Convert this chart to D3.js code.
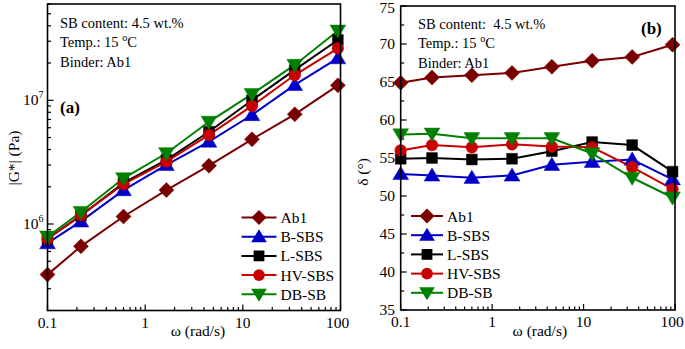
<!DOCTYPE html>
<html><head><meta charset="utf-8">
<script src="https://cdn.jsdelivr.net/npm/d3@7"></script>
<style>
html,body{margin:0;padding:0;background:#fff;}
svg{display:block;font-family:"Liberation Serif","Times New Roman",serif;}
svg text{font-family:"Liberation Serif","Times New Roman",serif;}
</style></head>
<body><svg id="c" width="685" height="349"></svg>
<script>
const freq = [0.1, 0.22, 0.6, 1.65, 4.5, 12.4, 34, 94];
const seriesNames = ["Ab1", "B-SBS", "L-SBS", "HV-SBS", "DB-SB"];
const seriesColors = ["#7a0000", "#0000c8", "#000000", "#c80000", "#008000"];
const seriesSymbols = ["diamond", "triangle", "square", "circle", "triangleDown"];
// |G*| (Pa)
const gAb1 = [3.9e5, 6.6e5, 1.15e6, 1.88e6, 2.96e6, 4.84e6, 7.7e6, 1.32e7];
const gB   = [7.0e5, 1.05e6, 1.88e6, 3.0e6, 4.64e6, 7.6e6, 1.33e7, 2.19e7];
const gL   = [7.6e5, 1.17e6, 2.15e6, 3.3e6, 5.57e6, 1.0e7, 1.76e7, 3.07e7];
const gHV  = [7.6e5, 1.18e6, 2.1e6, 3.2e6, 5.25e6, 9.0e6, 1.6e7, 2.63e7];
const gDB  = [7.9e5, 1.25e6, 2.34e6, 3.73e6, 6.7e6, 1.12e7, 1.93e7, 3.65e7];
// phase angle (deg)
const dAb1 = [64.9, 65.6, 65.9, 66.2, 67.0, 67.8, 68.3, 69.9];
const dB   = [52.9, 52.7, 52.4, 52.7, 54.1, 54.5, 54.8, 52.2];
const dL   = [54.9, 55.0, 54.8, 54.9, 55.9, 57.1, 56.7, 53.2];
const dHV  = [56.0, 56.7, 56.4, 56.8, 56.5, 56.4, 53.8, 50.9];
const dDB  = [58.1, 58.2, 57.6, 57.6, 57.6, 55.6, 52.4, 49.8];
const xTicks = [0.1, 1, 10, 100];
const xTickLabels = ["0.1", "1", "10", "100"];
const gTicks = [1e6, 1e7];
const gTickExp = ["6", "7"];
const dTicks = [35, 40, 45, 50, 55, 60, 65, 70, 75];
const annotLines = ["SB content: 4.5 wt.%", "Temp.: 15 ", "Binder: Ab1"];

const gSeries = [gAb1, gB, gL, gHV, gDB];
const dSeries = [dAb1, dB, dL, dHV, dDB];

const svg = d3.select("#c");
const FS = 15.5;

function symbolPath(type, size) {
  const s = size;
  if (type === "diamond") { const h = s/2; return `M0,${-h}L${h},0L0,${h}L${-h},0Z`; }
  if (type === "square") { const h = s/2*0.72; return `M${-h},${-h}H${h}V${h}H${-h}Z`; }
  if (type === "circle") { const r = s/2*0.78; return d3.symbol(d3.symbolCircle, Math.PI*r*r)(); }
  if (type === "triangle") { const h = s/2; return `M0,${-h}L${h*1.05},${h*0.75}L${-h*1.05},${h*0.75}Z`; }
  if (type === "triangleDown") { const h = s/2; return `M0,${h}L${h*1.05},${-h*0.75}L${-h*1.05},${-h*0.75}Z`; }
}

function logMinor(domain) {
  const out = [];
  for (let e = Math.floor(Math.log10(domain[0])); e <= Math.ceil(Math.log10(domain[1])); e++) {
    for (let m = 1; m < 10; m++) {
      const v = m * Math.pow(10, e);
      if (v >= domain[0]*0.999 && v <= domain[1]*1.001) out.push({v, major: m === 1});
    }
  }
  return out;
}

function panel(opts) {
  const {x0, x1, y0, y1} = opts;
  const x = d3.scaleLog().domain([0.1, 100]).range([x0, x1]);
  const y = opts.y;
  const g = svg.append("g");
  logMinor([0.1, 100]).forEach(t => {
    const px = x(t.v);
    const L = t.major ? 6 : 3.5;
    g.append("line").attr("x1", px).attr("x2", px).attr("y1", y1).attr("y2", y1 - L)
      .attr("stroke", "#000").attr("stroke-width", 1.2);
  });
  xTicks.forEach((t, i) => {
    g.append("text").attr("x", x(t) - (i === 3 ? 3 : 0)).attr("y", y1 + 17).attr("text-anchor", "middle")
      .attr("font-size", FS).text(xTickLabels[i]);
  });
  g.append("text").attr("x", (x0 + x1) / 2 + opts.xLabelDx).attr("y", 336).attr("text-anchor", "middle")
    .attr("font-size", FS).text("ω (rad/s)");
  opts.yTicks(g, y);
  const line = d3.line().x((d, i) => x(freq[i])).y(d => y(d));
  opts.series.forEach((s, k) => {
    g.append("path").attr("d", line(s)).attr("fill", "none")
      .attr("stroke", seriesColors[k]).attr("stroke-width", 2);
  });
  opts.series.forEach((s, k) => {
    g.selectAll(null).data(s).enter().append("path")
      .attr("d", symbolPath(seriesSymbols[k], 15))
      .attr("transform", (d, i) => `translate(${x(freq[i])},${y(d)})`)
      .attr("fill", seriesColors[k]).attr("stroke", seriesColors[k]).attr("stroke-width", 0.5);
  });
  g.append("rect").attr("x", x0).attr("y", y0).attr("width", x1 - x0).attr("height", y1 - y0)
    .attr("fill", "none").attr("stroke", "#000").attr("stroke-width", 1.6);
  const L = opts.legend;
  seriesNames.forEach((n, k) => {
    const ly = L.y + k * L.dy;
    g.append("line").attr("x1", L.x).attr("x2", L.x + L.w).attr("y1", ly).attr("y2", ly)
      .attr("stroke", seriesColors[k]).attr("stroke-width", 2);
    g.append("path").attr("d", symbolPath(seriesSymbols[k], 15))
      .attr("transform", `translate(${L.x + L.w/2},${ly})`).attr("fill", seriesColors[k]);
    g.append("text").attr("x", L.x + L.w + 4).attr("y", ly + 5.5).attr("font-size", FS).text(n);
  });
  const A = opts.annot;
  annotLines.forEach((t, i) => {
    const tx = g.append("text").attr("x", A.x).attr("y", A.y + i * 19.3).attr("font-size", 14.5).attr("xml:space", "preserve");
    if (i === 1) {
      tx.append("tspan").text(t);
      tx.append("tspan").attr("dy", -6).attr("font-size", 10).text("o");
      tx.append("tspan").attr("dy", 6).text("C");
    } else if (i === 0) {
      tx.text(A.wide ? "SB content:  4.5 wt.%" : t);
    } else tx.text(t);
  });
  g.append("text").attr("x", opts.tag.x).attr("y", opts.tag.y).attr("font-size", 17)
    .attr("font-weight", "bold").text(opts.tag.t);
}

// Panel (a)
panel({
  x0: 47.5, x1: 340.5, y0: 4, y1: 310.5,
  xLabelDx: 4,
  y: d3.scaleLog().domain([2e5, 6e7]).range([310.5, 4]),
  series: gSeries,
  yTicks: (g, y) => {
    logMinor([2e5, 6e7]).forEach(t => {
      const py = y(t.v);
      const L = t.major ? 6 : 3.5;
      g.append("line").attr("x1", 47.5).attr("x2", 47.5 + L).attr("y1", py).attr("y2", py)
        .attr("stroke", "#000").attr("stroke-width", 1.2);
    });
    gTicks.forEach((t, i) => {
      const tx = g.append("text").attr("x", 23).attr("y", y(t) + 5).attr("font-size", FS);
      tx.append("tspan").text("10");
      tx.append("tspan").attr("dy", -7).attr("font-size", 10).text(gTickExp[i]);
    });
    g.append("text").attr("transform", `translate(19,158) rotate(-90)`).attr("text-anchor", "middle")
      .attr("font-size", FS).text("|G*| (Pa)");
  },
  legend: {x: 241.5, y: 217.5, dy: 19.2, w: 35},
  annot: {x: 60, y: 28, wide: false},
  tag: {x: 60, y: 113, t: "(a)"}
});

// Panel (b)
panel({
  x0: 400.7, x1: 675, y0: 6, y1: 310,
  xLabelDx: 2,
  y: d3.scaleLinear().domain([35, 75]).range([310, 6]),
  series: dSeries,
  yTicks: (g, y) => {
    for (let v = 35; v <= 75; v += 2.5) {
      const major = v % 5 === 0;
      const L = major ? 6 : 3.5;
      g.append("line").attr("x1", 400.7).attr("x2", 400.7 + L).attr("y1", y(v)).attr("y2", y(v))
        .attr("stroke", "#000").attr("stroke-width", 1.2);
    }
    dTicks.forEach(t => {
      g.append("text").attr("x", 395).attr("y", Math.max(y(t) + 5, 13)).attr("text-anchor", "end")
        .attr("font-size", FS).text(t);
    });
    g.append("text").attr("transform", `translate(368,172) rotate(-90)`).attr("text-anchor", "middle")
      .attr("font-size", FS).text("δ (°)");
  },
  legend: {x: 411, y: 216, dy: 19.2, w: 32},
  annot: {x: 418, y: 29, wide: true},
  tag: {x: 641, y: 34, t: "(b)"}
});
</script></body></html>
